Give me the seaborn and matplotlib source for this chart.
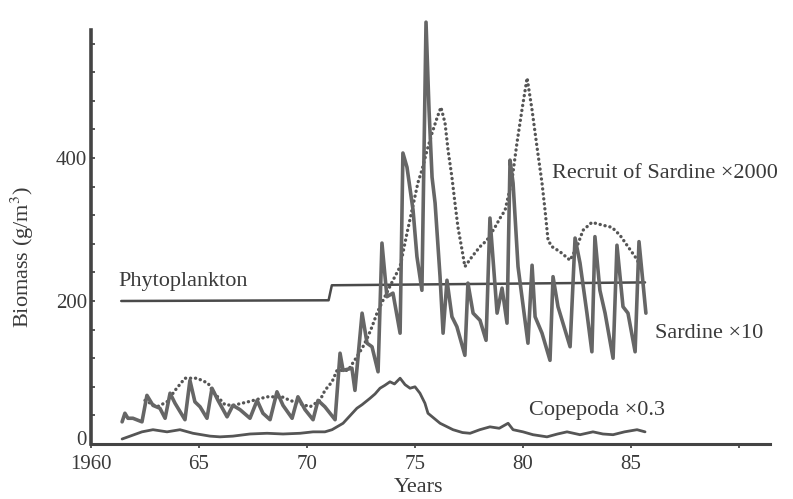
import matplotlib
matplotlib.use("Agg")
import matplotlib.pyplot as plt
from matplotlib.ticker import MultipleLocator
from matplotlib.transforms import ScaledTranslation
import numpy as np
import pandas as pd
import seaborn as sns

# ---- data (biomass, g/m^3; scaled series as labelled) ----
phyto_year = [1961.4, 1971.0, 1971.15, 1985.65]
phyto_val = [200, 201, 222, 226]

sardine_year = [1961.44, 1961.57, 1961.71, 1961.94, 1962.36, 1962.59, 1962.87, 1963.19,
                1963.43, 1963.66, 1963.89, 1964.35, 1964.58, 1964.81, 1965.05, 1965.37,
                1965.60, 1965.88, 1966.30, 1966.57, 1966.90, 1967.36, 1967.69, 1967.96,
                1968.29, 1968.61, 1968.89, 1969.31, 1969.58, 1969.91, 1970.28, 1970.51,
                1970.83, 1971.30, 1971.53, 1971.67, 1972.08, 1972.22, 1972.55, 1972.78,
                1973.01, 1973.29, 1973.47, 1973.70, 1973.98, 1974.31, 1974.44, 1974.63,
                1974.91, 1975.09, 1975.32, 1975.51, 1975.65, 1975.79, 1975.93, 1976.16,
                1976.30, 1976.48, 1976.71, 1976.94, 1977.31, 1977.45, 1977.69, 1978.01,
                1978.29, 1978.47, 1978.80, 1979.03, 1979.26, 1979.40, 1979.54, 1979.77,
                1980.23, 1980.42, 1980.56, 1980.88, 1981.25, 1981.39, 1981.62, 1981.85,
                1982.18, 1982.41, 1982.64, 1982.96, 1983.19, 1983.33, 1983.56, 1983.80,
                1984.17, 1984.35, 1984.63, 1984.86, 1985.19, 1985.37, 1985.69]
sardine_val = [31, 43, 36, 36, 31, 68, 54, 50,
               36, 71, 57, 34, 89, 59, 52, 36,
               78, 61, 38, 54, 48, 36, 61, 43,
               34, 73, 54, 36, 66, 48, 34, 61,
               52, 34, 127, 103, 106, 75, 183, 141,
               136, 101, 281, 206, 211, 155, 407, 387,
               327, 262, 215, 590, 467, 373, 337, 234,
               155, 229, 178, 164, 124, 225, 183, 173,
               145, 316, 183, 218, 169, 397, 365, 248,
               141, 250, 178, 155, 117, 234, 192, 169,
               136, 288, 253, 183, 129, 290, 215, 183,
               120, 278, 192, 183, 129, 283, 183]

recruit_year = [1962.50, 1963.06, 1963.52, 1963.89, 1964.35, 1964.91, 1965.42, 1965.65,
                1966.20, 1966.57, 1967.27, 1968.15, 1968.84, 1969.21, 1970.14, 1970.60,
                1970.83, 1971.16, 1971.39, 1971.90, 1972.31, 1972.59, 1972.82, 1973.01,
                1973.24, 1973.52, 1973.98, 1974.31, 1974.63, 1974.86, 1975.14, 1975.32,
                1975.56, 1975.79, 1976.02, 1976.20, 1976.39, 1976.53, 1976.71, 1976.85,
                1976.99, 1977.18, 1977.31, 1977.64, 1978.01, 1978.33, 1978.70, 1978.94,
                1979.17, 1979.49, 1979.72, 1979.95, 1980.19, 1980.42, 1980.65, 1980.88,
                1981.02, 1981.16, 1981.34, 1981.71, 1982.18, 1982.50, 1982.78, 1983.19,
                1983.70, 1984.12, 1984.49, 1984.86, 1985.19, 1985.42]
recruit_val = [61, 52, 59, 75, 92, 92, 85, 73,
               55, 54, 59, 66, 66, 61, 52, 61,
               75, 87, 103, 103, 122, 136, 150, 164,
               183, 201, 229, 248, 295, 327, 366, 383,
               411, 435, 456, 471, 449, 411, 373, 337,
               303, 271, 248, 262, 276, 285, 303, 316,
               327, 369, 421, 467, 512, 467, 415, 365,
               327, 285, 276, 269, 257, 276, 299, 310,
               306, 303, 292, 276, 262, 250]

copepod_year = [1961.44, 1961.81, 1962.36, 1962.87, 1963.52, 1964.12, 1964.72, 1965.51,
                1965.97, 1966.57, 1967.36, 1968.15, 1968.89, 1969.68, 1970.28, 1970.83,
                1971.16, 1971.67, 1972.31, 1972.55, 1972.92, 1973.15, 1973.38, 1973.60,
                1973.84, 1974.05, 1974.31, 1974.54, 1974.77, 1975.00, 1975.23, 1975.46,
                1975.60, 1976.16, 1976.76, 1977.20, 1977.55, 1978.00, 1978.47, 1978.90,
                1979.31, 1979.54, 1980.00, 1980.46, 1981.11, 1981.60, 1982.04, 1982.64,
                1983.24, 1983.70, 1984.17, 1984.70, 1985.28, 1985.65]
copepod_val = [7, 11, 17, 20, 17, 20, 15, 11,
               10, 11, 14, 15, 14, 15, 17, 17,
               20, 29, 50, 55, 64, 70, 78, 82,
               87, 84, 92, 83, 78, 80, 71, 57,
               43, 29, 20, 16, 15, 20, 24, 22,
               29, 20, 17, 13, 10, 14, 17, 13,
               17, 14, 13, 17, 20, 17]

x_ticks = [1960, 1965, 1970, 1975, 1980, 1985, 1990]
x_ticklabels = ["1960", "65", "70", "75", "80", "85", ""]
y_ticks = [0, 200, 400]

# ---- styling ----
sns.set_style("ticks")
plt.rcParams["font.family"] = ["Liberation Serif", "DejaVu Serif"]
plt.rcParams["mathtext.fontset"] = "stix"
ink = "#3a3a3a"
line_col = "#666666"

W, H = 793, 499
fig = plt.figure(figsize=(W / 100, H / 100), dpi=100)
ax = fig.add_axes([91 / W, 55 / H, (770 - 91) / W, (444 - 30) / H])

phyto = pd.DataFrame({"year": phyto_year, "biomass": phyto_val})
sardine = pd.DataFrame({"year": sardine_year, "biomass": sardine_val})
recruit = pd.DataFrame({"year": recruit_year, "biomass": recruit_val})
copepod = pd.DataFrame({"year": copepod_year, "biomass": copepod_val})

common = dict(x="year", y="biomass", ax=ax, sort=False, estimator=None)
sns.lineplot(data=phyto, color="#4a4a4a", linewidth=1.8, **common)
sns.lineplot(data=copepod, color="#555555", linewidth=2.0, **common)
sns.lineplot(data=recruit, color="#555555", linewidth=2.4,
             linestyle=(0, (0.05, 1.45)), dash_capstyle="round", **common)
sns.lineplot(data=sardine, color=line_col, linewidth=2.6, **common)
for ln in ax.lines:
    ln.set_clip_on(False)

ax.set_xlim(1960, 1960 + (770 - 91) / 21.6)
ax.set_ylim(0, (444 - 30) / 0.715)

ax.set_xticks(x_ticks)
ax.set_xticklabels(x_ticklabels)
ax.set_yticks(y_ticks)
ax.yaxis.set_minor_locator(MultipleLocator(40))
ax.tick_params(axis="y", which="both", direction="in", length=3, width=1.2,
               color=ink, labelsize=15, labelcolor=ink, pad=3)
ax.tick_params(axis="x", which="major", direction="out", length=3, width=1.2,
               color=ink, labelsize=15, labelcolor=ink, pad=5)

# lift the zero label slightly off the x axis
fig.canvas.draw()
zero_lab = ax.get_yticklabels()[0]
zero_lab.set_transform(zero_lab.get_transform() +
                       ScaledTranslation(0, 4 / 72, fig.dpi_scale_trans))

sns.despine(ax=ax)
ax.spines["left"].set_linewidth(2.6)
ax.spines["bottom"].set_linewidth(2.2)
ax.spines["left"].set_color("#444444")
ax.spines["bottom"].set_color("#444444")
ax.set_xlabel("")
ax.set_ylabel("")

# series labels
lab = dict(fontsize=16, color=ink, va="center", ha="left")
ax.text(1961.25, 227, "Phytoplankton", **lab)
ax.text(1981.35, 379, "Recruit of Sardine \u00d72000", **lab)
ax.text(1986.1, 155, "Sardine \u00d710", **lab)
ax.text(1980.3, 47, "Copepoda \u00d70.3", **lab)

fig.text(418 / W, 1 - 488 / H, "Years", fontsize=16, color=ink,
         ha="center", va="center")
fig.text(22 / W, 1 - 257 / H, "Biomass (g/m$^3$)", fontsize=16, color=ink,
         rotation=90, ha="center", va="center")

fig.savefig("out.png", dpi=100, facecolor="white")
